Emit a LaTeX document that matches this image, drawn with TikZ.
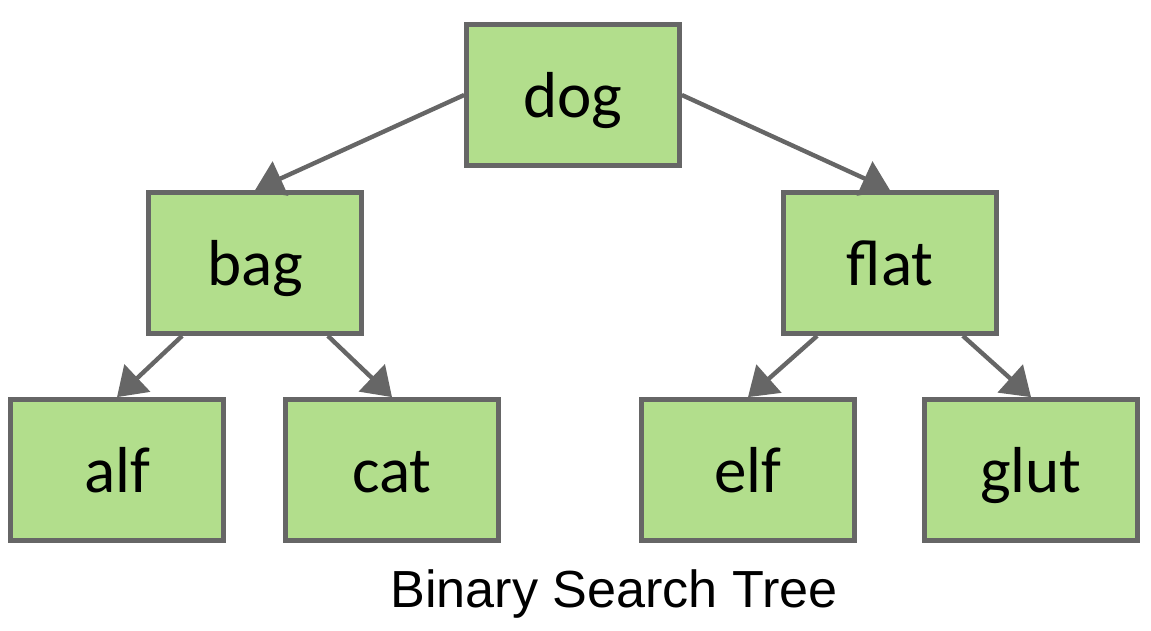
\documentclass[tikz,border=0pt]{standalone}
\usepackage{fontspec}
\setmainfont{Carlito}
\newfontfamily\captionfont{Liberation Sans}
\usetikzlibrary{arrows.meta}
\begin{document}
\begin{tikzpicture}[x=0.02cm,y=-0.02cm]
  % colors
  \definecolor{kLeaf}{rgb}{0.70,0.87,0.55}
  \definecolor{kEdge}{rgb}{0.40,0.40,0.40}
  \tikzset{
    word/.style={draw=kEdge,line width=2.7pt,fill=kLeaf,minimum width=4.26cm,
      minimum height=2.82cm,inner sep=0pt,text height=26pt,text depth=0pt,
      font=\fontsize{37}{42}\selectfont},
    link/.style={draw=kEdge,line width=2.5pt,-{Triangle[length=0.56cm,width=0.74cm]}}
  }
  \useasboundingbox (0,0) rectangle (1151,631);
  % nodes
  \node[word] (dog) at (573,95) {dog};
  \node[word] (bag) at (255,263) {bag};
  \node[word] (flat) at (890,263) {flat};
  \node[word] (alf) at (117,470) {alf};
  \node[word] (cat) at (392,470) {cat};
  \node[word] (elf) at (748,470) {elf};
  \node[word] (glut) at (1031,470) {glut};
  \node[font=\captionfont\fontsize{29.7}{34}\selectfont] (title) at (614,594) {Binary Search Tree};
  % edges
  \draw[link] (dog.west) -- (bag.north);
  \draw[link] (dog.east) -- (flat.north);
  \draw[link] (bag.-135) -- (alf.north);
  \draw[link] (bag.-45) -- (cat.north);
  \draw[link] (flat.-135) -- (elf.north);
  \draw[link] (flat.-45) -- (glut.north);
\end{tikzpicture}
\end{document}
